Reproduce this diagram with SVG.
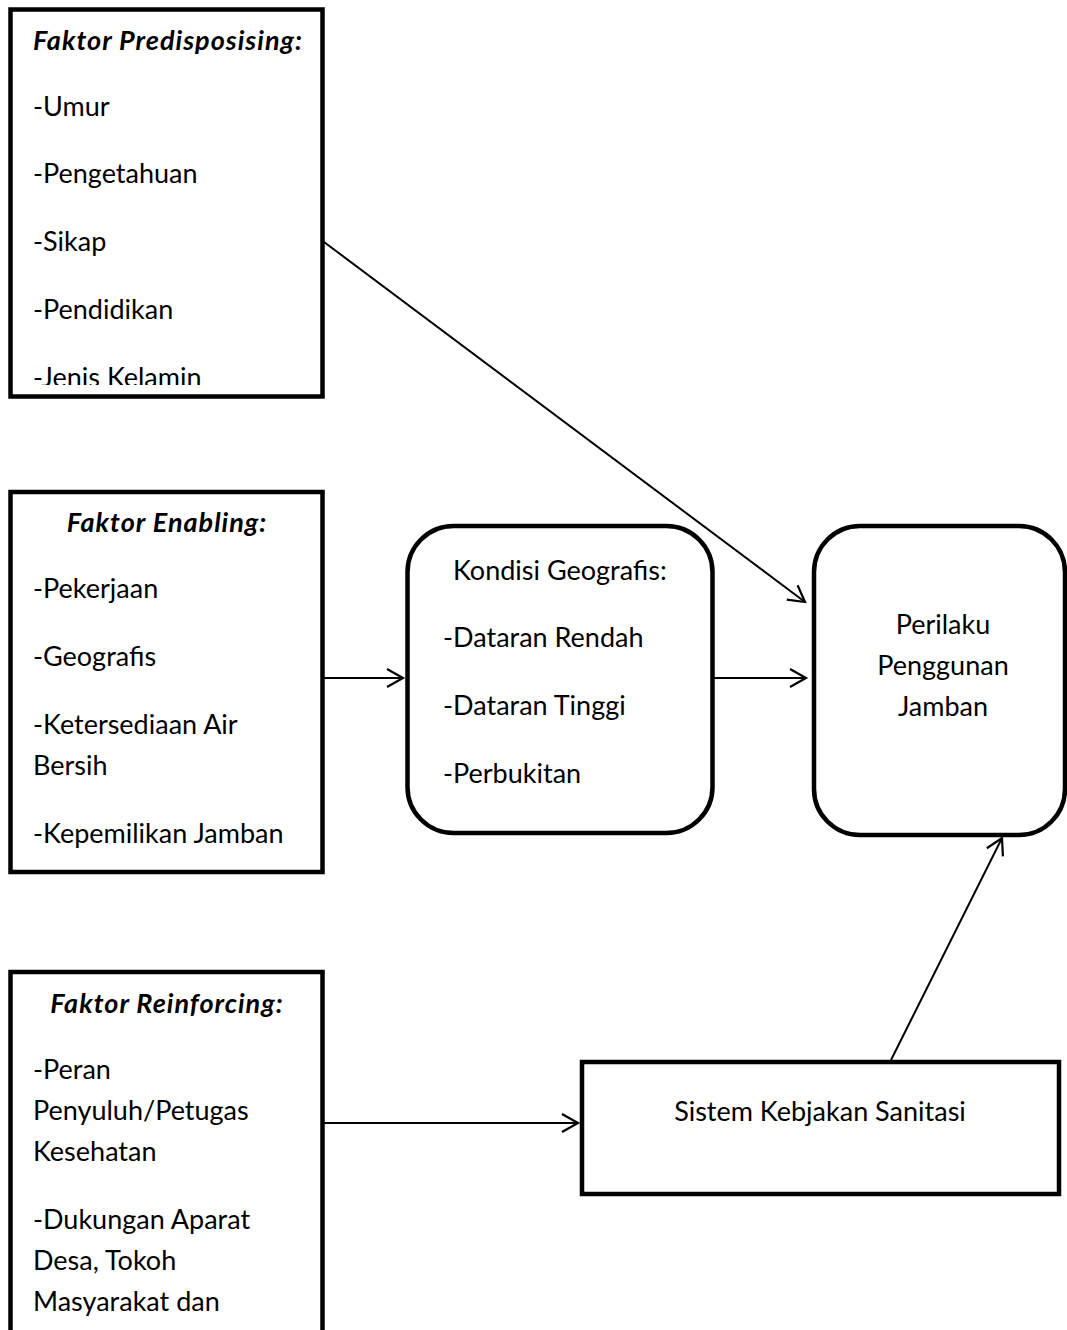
<svg xmlns="http://www.w3.org/2000/svg" width="1067" height="1330" viewBox="0 0 1067 1330">
<style>
.box{fill:#fff;stroke:#000;stroke-width:4.5}
.t{font-family:Lato,"Open Sans","Liberation Sans",sans-serif;font-size:27px;fill:#000}
.h{font-weight:bold;font-style:italic;letter-spacing:1px}
.c{text-anchor:middle}
.con{fill:none;stroke:#000;stroke-width:2}
</style>
<defs>
<marker id="arr" markerUnits="userSpaceOnUse" markerWidth="24" markerHeight="24" viewBox="-18 -12 24 24" refX="0" refY="0" orient="auto">
<path d="M-16,-9 L0,0 L-16,9" fill="none" stroke="#000" stroke-width="2.2"/>
</marker>
<clipPath id="clip1"><rect x="0" y="0" width="400" height="385"/></clipPath>
</defs>
<rect width="1067" height="1330" fill="#fff"/>
<g id="predisposing">
<rect class="box" x="10.5" y="9.5" width="312" height="387"/>
<text class="t h" x="33" y="50">Faktor Predisposising:</text>
<text class="t" x="33" y="116">-Umur</text>
<text class="t" x="33" y="183">-Pengetahuan</text>
<text class="t" x="33" y="251">-Sikap</text>
<text class="t" x="33" y="319">-Pendidikan</text>
<text class="t" x="33" y="387" clip-path="url(#clip1)">-Jenis Kelamin</text>
</g>
<g id="enabling">
<rect class="box" x="10.5" y="492" width="312" height="380"/>
<text class="t h c" x="167" y="532">Faktor Enabling:</text>
<text class="t" x="33" y="598">-Pekerjaan</text>
<text class="t" x="33" y="666">-Geografis</text>
<text class="t" x="33" y="734">-Ketersediaan Air</text>
<text class="t" x="33" y="775">Bersih</text>
<text class="t" x="33" y="843">-Kepemilikan Jamban</text>
</g>
<g id="reinforcing">
<rect class="box" x="10.5" y="972" width="312" height="400"/>
<text class="t h c" x="167" y="1013">Faktor Reinforcing:</text>
<text class="t" x="33" y="1079">-Peran</text>
<text class="t" x="33" y="1120">Penyuluh/Petugas</text>
<text class="t" x="33" y="1161">Kesehatan</text>
<text class="t" x="33" y="1229">-Dukungan Aparat</text>
<text class="t" x="33" y="1270">Desa, Tokoh</text>
<text class="t" x="33" y="1311">Masyarakat dan</text>
</g>
<g id="kondisi">
<rect class="box" x="407.5" y="526" width="305" height="307" rx="46" ry="46"/>
<text class="t" x="453" y="580">Kondisi Geografis:</text>
<text class="t" x="443" y="647">-Dataran Rendah</text>
<text class="t" x="443" y="715">-Dataran Tinggi</text>
<text class="t" x="443" y="783">-Perbukitan</text>
</g>
<g id="perilaku">
<rect class="box" x="814" y="526" width="251" height="309" rx="46" ry="46"/>
<text class="t c" x="943" y="634">Perilaku</text>
<text class="t c" x="943" y="675">Penggunan</text>
<text class="t c" x="943" y="716">Jamban</text>
</g>
<g id="sistem">
<rect class="box" x="582" y="1062" width="477" height="132"/>
<text class="t c" x="820" y="1121">Sistem Kebjakan Sanitasi</text>
</g>
<g id="connectors">
<line class="con" x1="324" y1="242" x2="805" y2="602" marker-end="url(#arr)"/>
<line class="con" x1="324" y1="678" x2="403" y2="678" marker-end="url(#arr)"/>
<line class="con" x1="714" y1="678" x2="806" y2="678" marker-end="url(#arr)"/>
<line class="con" x1="324" y1="1123" x2="578" y2="1123" marker-end="url(#arr)"/>
<line class="con" x1="891" y1="1060" x2="1002" y2="838" marker-end="url(#arr)"/>
</g>
</svg>
